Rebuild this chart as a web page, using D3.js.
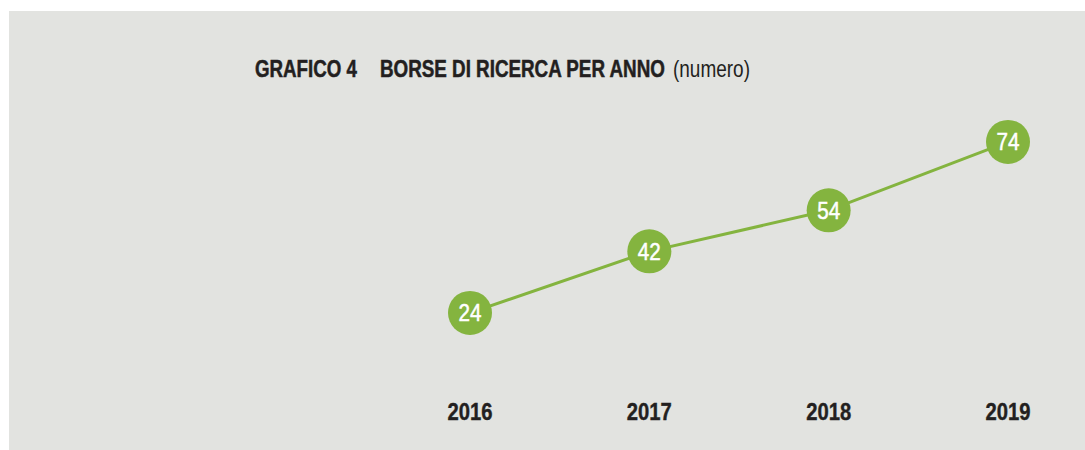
<!DOCTYPE html>
<html>
<head>
<meta charset="UTF-8">
<script src="https://d3js.org/d3.v7.min.js"></script>
<style>
  body { margin: 0; background: #ffffff; }
  svg text { font-family: "Liberation Sans", Arial, sans-serif; }
</style>
</head>
<body>
<svg id="chart" width="1085" height="450"></svg>
<script>
// dati: borse di ricerca per anno
const anni = ['2016', '2017', '2018', '2019'];
const borse = [24, 42, 54, 74];

const verde = '#84b43f';
const scuro = '#231f20';

const svg = d3.select('#chart');

// comprime in orizzontale un testo fino alla larghezza w (imita un condensed)
function stringi(sel, w) {
    sel.each(function () {
        const len = this.getComputedTextLength();
        const t = d3.select(this);
        const base = t.attr('transform') || '';
        t.attr('transform', base + ` scale(${w / len},1)`);
    });
}

// pannello grigio
svg.append('rect')
    .attr('x', 9).attr('y', 11)
    .attr('width', 1076).attr('height', 439)
    .attr('fill', '#e2e3e0');

// titolo in tre pezzi
const pezzi = [
    { t: 'GRAFICO 4', x: 255, w: 102, b: true },
    { t: 'BORSE DI RICERCA PER ANNO', x: 380, w: 285, b: true },
    { t: '(numero)', x: 673, w: 77, b: false }
];
svg.selectAll('text.titolo')
    .data(pezzi)
    .join('text')
    .attr('class', 'titolo')
    .attr('transform', d => `translate(${d.x},77)`)
    .attr('font-size', 23)
    .attr('font-weight', d => d.b ? 'bold' : 'normal')
    .attr('fill', scuro)
    .attr('stroke', d => d.b ? scuro : 'none')
    .attr('stroke-width', 0.5)
    .text(d => d.t)
    .each(function (d) { stringi(d3.select(this), d.w); });

const x = d3.scalePoint()
    .domain(anni)
    .range([470, 1008]);

const y = d3.scaleLinear()
    .domain([0, 80])
    .range([395, 121.4]);

const dati = anni.map((a, i) => ({ anno: a, valore: borse[i] }));

// linea
svg.append('path')
    .datum(dati)
    .attr('fill', 'none')
    .attr('stroke', verde)
    .attr('stroke-width', 3)
    .attr('d', d3.line()
        .x(d => x(d.anno))
        .y(d => y(d.valore)));

// cerchi
const punti = svg.selectAll('g.punto')
    .data(dati)
    .join('g')
    .attr('class', 'punto')
    .attr('transform', d => `translate(${x(d.anno)},${y(d.valore)})`);

punti.append('circle')
    .attr('r', 22)
    .attr('fill', verde);

punti.append('text')
    .attr('transform', 'translate(0,8.5)')
    .attr('text-anchor', 'middle')
    .attr('font-size', 24)
    .attr('fill', '#ffffff')
    .attr('stroke', '#ffffff')
    .attr('stroke-width', 0.5)
    .text(d => d.valore)
    .call(stringi, 23);

// etichette anni
svg.selectAll('text.anno')
    .data(anni)
    .join('text')
    .attr('class', 'anno')
    .attr('transform', d => `translate(${x(d)},420)`)
    .attr('text-anchor', 'middle')
    .attr('font-size', 24)
    .attr('font-weight', 'bold')
    .attr('fill', scuro)
    .attr('stroke', scuro)
    .attr('stroke-width', 0.4)
    .text(d => d)
    .call(stringi, 45);
</script>
</body>
</html>
